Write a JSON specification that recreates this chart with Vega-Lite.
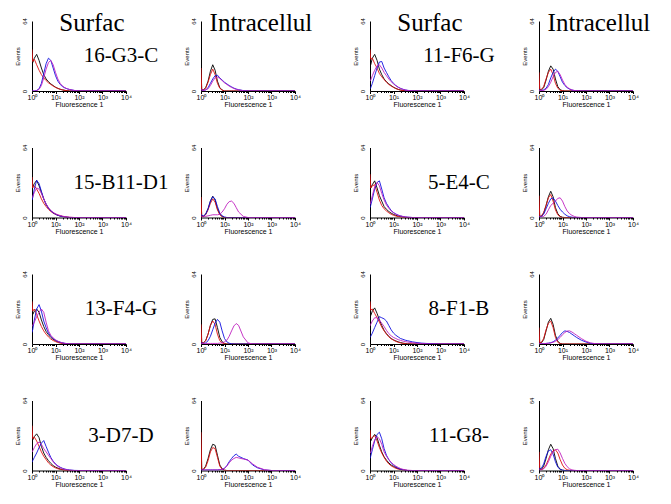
{
"$schema": "https://vega.github.io/schema/vega-lite/v6.json",
"background": "white",
"padding": {"left": 14, "top": 10, "right": 0, "bottom": 0},
"datasets": {
"d": [
{"row":1,"col":1,"x":1,"black":46,"red":38,"blue":0,"magenta":0},
{"row":1,"col":1,"x":1.07,"black":26,"red":27,"blue":0,"magenta":0},
{"row":1,"col":1,"x":1.26,"black":30,"red":29,"blue":0,"magenta":0},
{"row":1,"col":1,"x":1.58,"black":33.5,"red":24,"blue":0.5,"magenta":0.3},
{"row":1,"col":1,"x":2,"black":28,"red":19,"blue":2,"magenta":1.5},
{"row":1,"col":1,"x":2.51,"black":21,"red":15,"blue":7,"magenta":5},
{"row":1,"col":1,"x":3.16,"black":15,"red":12,"blue":16,"magenta":12},
{"row":1,"col":1,"x":3.98,"black":11,"red":9.5,"blue":25,"magenta":20},
{"row":1,"col":1,"x":5.01,"black":8.5,"red":7.5,"blue":30,"magenta":26},
{"row":1,"col":1,"x":6.31,"black":6.5,"red":6,"blue":28,"magenta":28},
{"row":1,"col":1,"x":7.94,"black":5,"red":4.5,"blue":21,"magenta":24},
{"row":1,"col":1,"x":10,"black":3.5,"red":3.3,"blue":14,"magenta":17},
{"row":1,"col":1,"x":12.6,"black":2.4,"red":2.4,"blue":9,"magenta":11},
{"row":1,"col":1,"x":15.8,"black":1.6,"red":1.6,"blue":6,"magenta":7},
{"row":1,"col":1,"x":20,"black":1,"red":1,"blue":4,"magenta":4.5},
{"row":1,"col":1,"x":25.1,"black":0.6,"red":0.5,"blue":2.8,"magenta":3},
{"row":1,"col":1,"x":31.6,"black":0.3,"red":0.2,"blue":2,"magenta":2},
{"row":1,"col":1,"x":39.8,"black":0,"red":0,"blue":1.4,"magenta":1.3},
{"row":1,"col":1,"x":63.1,"black":0,"red":0,"blue":0.5,"magenta":0.5},
{"row":1,"col":1,"x":100,"black":0,"red":0,"blue":0,"magenta":0},
{"row":1,"col":1,"x":10000,"black":0,"red":0,"blue":0,"magenta":0},

{"row":1,"col":2,"x":1,"black":26,"red":21,"blue":1,"magenta":1},
{"row":1,"col":2,"x":1.07,"black":1,"red":1,"blue":1,"magenta":1},
{"row":1,"col":2,"x":1.26,"black":1,"red":1,"blue":0.5,"magenta":0.5},
{"row":1,"col":2,"x":1.58,"black":3,"red":2.5,"blue":1,"magenta":1},
{"row":1,"col":2,"x":2,"black":9,"red":8,"blue":3,"magenta":2},
{"row":1,"col":2,"x":2.51,"black":18,"red":15,"blue":7,"magenta":5},
{"row":1,"col":2,"x":3.16,"black":24,"red":20,"blue":11,"magenta":9},
{"row":1,"col":2,"x":3.98,"black":19,"red":15,"blue":14,"magenta":12},
{"row":1,"col":2,"x":5.01,"black":9,"red":7,"blue":14.5,"magenta":12.8},
{"row":1,"col":2,"x":6.31,"black":3,"red":2.5,"blue":12,"magenta":11.5},
{"row":1,"col":2,"x":7.94,"black":1,"red":0.8,"blue":10,"magenta":9.5},
{"row":1,"col":2,"x":10,"black":0,"red":0,"blue":8,"magenta":7.5},
{"row":1,"col":2,"x":12.6,"black":0,"red":0,"blue":6.5,"magenta":6},
{"row":1,"col":2,"x":15.8,"black":0,"red":0,"blue":5,"magenta":4.5},
{"row":1,"col":2,"x":20,"black":0,"red":0,"blue":3.8,"magenta":3.3},
{"row":1,"col":2,"x":25.1,"black":0,"red":0,"blue":2.6,"magenta":2.3},
{"row":1,"col":2,"x":31.6,"black":0,"red":0,"blue":1.8,"magenta":1.5},
{"row":1,"col":2,"x":39.8,"black":0,"red":0,"blue":1.2,"magenta":1},
{"row":1,"col":2,"x":63.1,"black":0,"red":0,"blue":0.4,"magenta":0.3},
{"row":1,"col":2,"x":100,"black":0,"red":0,"blue":0,"magenta":0},
{"row":1,"col":2,"x":10000,"black":0,"red":0,"blue":0,"magenta":0},

{"row":1,"col":3,"x":1,"black":44,"red":38,"blue":2,"magenta":9},
{"row":1,"col":3,"x":1.07,"black":24,"red":29,"blue":3,"magenta":10},
{"row":1,"col":3,"x":1.26,"black":30,"red":30,"blue":7,"magenta":14},
{"row":1,"col":3,"x":1.58,"black":33.5,"red":25,"blue":14,"magenta":19},
{"row":1,"col":3,"x":2,"black":28,"red":21,"blue":21,"magenta":23},
{"row":1,"col":3,"x":2.51,"black":20,"red":16,"blue":26.5,"magenta":24},
{"row":1,"col":3,"x":3.16,"black":15,"red":13,"blue":27,"magenta":21},
{"row":1,"col":3,"x":3.98,"black":11,"red":10.5,"blue":21,"magenta":17},
{"row":1,"col":3,"x":5.01,"black":8.5,"red":8,"blue":17,"magenta":14},
{"row":1,"col":3,"x":6.31,"black":6.5,"red":6,"blue":13,"magenta":11},
{"row":1,"col":3,"x":7.94,"black":5,"red":4.5,"blue":9.5,"magenta":8.5},
{"row":1,"col":3,"x":10,"black":3.5,"red":3.3,"blue":7,"magenta":6.5},
{"row":1,"col":3,"x":12.6,"black":2.4,"red":2.2,"blue":5,"magenta":4.8},
{"row":1,"col":3,"x":15.8,"black":1.5,"red":1.4,"blue":3.5,"magenta":3.4},
{"row":1,"col":3,"x":20,"black":0.9,"red":0.8,"blue":2.4,"magenta":2.3},
{"row":1,"col":3,"x":25.1,"black":0.5,"red":0.4,"blue":1.6,"magenta":1.5},
{"row":1,"col":3,"x":31.6,"black":0.2,"red":0.1,"blue":1,"magenta":0.9},
{"row":1,"col":3,"x":39.8,"black":0,"red":0,"blue":0.6,"magenta":0.5},
{"row":1,"col":3,"x":63.1,"black":0,"red":0,"blue":0.1,"magenta":0.1},
{"row":1,"col":3,"x":100,"black":0,"red":0,"blue":0,"magenta":0},
{"row":1,"col":3,"x":10000,"black":0,"red":0,"blue":0,"magenta":0},

{"row":1,"col":4,"x":1,"black":24,"red":17,"blue":1,"magenta":0.5},
{"row":1,"col":4,"x":1.07,"black":1,"red":1,"blue":1,"magenta":0.5},
{"row":1,"col":4,"x":1.26,"black":1,"red":1.5,"blue":0.5,"magenta":0.3},
{"row":1,"col":4,"x":1.58,"black":3,"red":4,"blue":1,"magenta":0.5},
{"row":1,"col":4,"x":2,"black":10,"red":11,"blue":2.5,"magenta":1.5},
{"row":1,"col":4,"x":2.51,"black":18,"red":17,"blue":6,"magenta":4},
{"row":1,"col":4,"x":3.16,"black":23,"red":20,"blue":12,"magenta":8},
{"row":1,"col":4,"x":3.98,"black":20,"red":15,"blue":17,"magenta":13},
{"row":1,"col":4,"x":5.01,"black":11,"red":7,"blue":20,"magenta":17},
{"row":1,"col":4,"x":6.31,"black":4,"red":2.5,"blue":18,"magenta":18},
{"row":1,"col":4,"x":7.94,"black":1.2,"red":0.7,"blue":13,"magenta":15},
{"row":1,"col":4,"x":10,"black":0.3,"red":0.2,"blue":8,"magenta":10},
{"row":1,"col":4,"x":12.6,"black":0,"red":0,"blue":5,"magenta":6},
{"row":1,"col":4,"x":15.8,"black":0,"red":0,"blue":3,"magenta":3.5},
{"row":1,"col":4,"x":20,"black":0,"red":0,"blue":1.7,"magenta":2},
{"row":1,"col":4,"x":25.1,"black":0,"red":0,"blue":0.9,"magenta":1},
{"row":1,"col":4,"x":31.6,"black":0,"red":0,"blue":0.4,"magenta":0.5},
{"row":1,"col":4,"x":39.8,"black":0,"red":0,"blue":0.1,"magenta":0.2},
{"row":1,"col":4,"x":63.1,"black":0,"red":0,"blue":0,"magenta":0},
{"row":1,"col":4,"x":10000,"black":0,"red":0,"blue":0,"magenta":0},

{"row":2,"col":1,"x":1,"black":43,"red":37,"blue":16,"magenta":18},
{"row":2,"col":1,"x":1.07,"black":28,"red":27,"blue":18,"magenta":19},
{"row":2,"col":1,"x":1.26,"black":31,"red":29,"blue":26,"magenta":23},
{"row":2,"col":1,"x":1.58,"black":34,"red":26,"blue":34,"magenta":27},
{"row":2,"col":1,"x":2,"black":29,"red":22,"blue":31,"magenta":26},
{"row":2,"col":1,"x":2.51,"black":23,"red":17,"blue":24,"magenta":22},
{"row":2,"col":1,"x":3.16,"black":17,"red":13,"blue":17,"magenta":17},
{"row":2,"col":1,"x":3.98,"black":12,"red":10,"blue":12,"magenta":12.5},
{"row":2,"col":1,"x":5.01,"black":8.5,"red":7.5,"blue":8.5,"magenta":9},
{"row":2,"col":1,"x":6.31,"black":6,"red":5.5,"blue":6,"magenta":6.5},
{"row":2,"col":1,"x":7.94,"black":4.3,"red":4,"blue":4.3,"magenta":4.7},
{"row":2,"col":1,"x":10,"black":3,"red":3,"blue":3,"magenta":3.4},
{"row":2,"col":1,"x":12.6,"black":2,"red":2.2,"blue":2,"magenta":2.5},
{"row":2,"col":1,"x":15.8,"black":1.4,"red":1.5,"blue":1.3,"magenta":1.8},
{"row":2,"col":1,"x":20,"black":0.9,"red":1,"blue":0.8,"magenta":1.2},
{"row":2,"col":1,"x":25.1,"black":0.5,"red":0.6,"blue":0.5,"magenta":0.8},
{"row":2,"col":1,"x":31.6,"black":0.2,"red":0.3,"blue":0.2,"magenta":0.5},
{"row":2,"col":1,"x":39.8,"black":0,"red":0.1,"blue":0,"magenta":0.3},
{"row":2,"col":1,"x":63.1,"black":0,"red":0,"blue":0,"magenta":0},
{"row":2,"col":1,"x":10000,"black":0,"red":0,"blue":0,"magenta":0},

{"row":2,"col":2,"x":1,"black":23,"red":18.7,"blue":3,"magenta":0.5},
{"row":2,"col":2,"x":1.07,"black":1,"red":1,"blue":2,"magenta":0.5},
{"row":2,"col":2,"x":1.26,"black":1,"red":1,"blue":1.5,"magenta":0.5},
{"row":2,"col":2,"x":1.58,"black":3,"red":2.5,"blue":3,"magenta":1},
{"row":2,"col":2,"x":2,"black":8,"red":7,"blue":8,"magenta":1.5},
{"row":2,"col":2,"x":2.51,"black":15,"red":13,"blue":15,"magenta":2},
{"row":2,"col":2,"x":3.16,"black":19.5,"red":17,"blue":19,"magenta":2.5},
{"row":2,"col":2,"x":3.98,"black":16,"red":14,"blue":17,"magenta":2.5},
{"row":2,"col":2,"x":5.01,"black":8,"red":7,"blue":10,"magenta":2.5},
{"row":2,"col":2,"x":6.31,"black":3,"red":2.5,"blue":4,"magenta":3},
{"row":2,"col":2,"x":7.94,"black":1,"red":0.8,"blue":1.5,"magenta":5},
{"row":2,"col":2,"x":10,"black":0,"red":0,"blue":0.5,"magenta":8},
{"row":2,"col":2,"x":12.6,"black":0,"red":0,"blue":0,"magenta":12},
{"row":2,"col":2,"x":15.8,"black":0,"red":0,"blue":0,"magenta":14.5},
{"row":2,"col":2,"x":20,"black":0,"red":0,"blue":0,"magenta":15},
{"row":2,"col":2,"x":25.1,"black":0,"red":0,"blue":0,"magenta":13},
{"row":2,"col":2,"x":31.6,"black":0,"red":0,"blue":0,"magenta":9},
{"row":2,"col":2,"x":39.8,"black":0,"red":0,"blue":0,"magenta":5},
{"row":2,"col":2,"x":63.1,"black":0,"red":0,"blue":0,"magenta":1},
{"row":2,"col":2,"x":100,"black":0,"red":0,"blue":0,"magenta":0},
{"row":2,"col":2,"x":10000,"black":0,"red":0,"blue":0,"magenta":0},

{"row":2,"col":3,"x":1,"black":45.7,"red":39.6,"blue":9,"magenta":12},
{"row":2,"col":3,"x":1.07,"black":27,"red":27,"blue":11,"magenta":14},
{"row":2,"col":3,"x":1.26,"black":30,"red":29,"blue":17,"magenta":20},
{"row":2,"col":3,"x":1.58,"black":33.5,"red":30,"blue":26,"magenta":28},
{"row":2,"col":3,"x":2,"black":27,"red":23,"blue":32,"magenta":32},
{"row":2,"col":3,"x":2.51,"black":20,"red":16,"blue":33.5,"magenta":29},
{"row":2,"col":3,"x":3.16,"black":15,"red":11,"blue":26,"magenta":22},
{"row":2,"col":3,"x":3.98,"black":10,"red":8,"blue":18,"magenta":16},
{"row":2,"col":3,"x":5.01,"black":7.5,"red":6,"blue":13,"magenta":11.5},
{"row":2,"col":3,"x":6.31,"black":5.5,"red":4.3,"blue":9.5,"magenta":8.5},
{"row":2,"col":3,"x":7.94,"black":4,"red":3,"blue":6.5,"magenta":6},
{"row":2,"col":3,"x":10,"black":2.8,"red":2,"blue":4.5,"magenta":4.3},
{"row":2,"col":3,"x":12.6,"black":2,"red":1.3,"blue":3.2,"magenta":3},
{"row":2,"col":3,"x":15.8,"black":1.3,"red":0.8,"blue":2.2,"magenta":2},
{"row":2,"col":3,"x":20,"black":0.8,"red":0.4,"blue":1.5,"magenta":1.4},
{"row":2,"col":3,"x":25.1,"black":0.4,"red":0.2,"blue":0.9,"magenta":0.9},
{"row":2,"col":3,"x":31.6,"black":0.1,"red":0,"blue":0.5,"magenta":0.5},
{"row":2,"col":3,"x":39.8,"black":0,"red":0,"blue":0.3,"magenta":0.3},
{"row":2,"col":3,"x":63.1,"black":0,"red":0,"blue":0,"magenta":0},
{"row":2,"col":3,"x":10000,"black":0,"red":0,"blue":0,"magenta":0},

{"row":2,"col":4,"x":1,"black":24,"red":20,"blue":1,"magenta":0.5},
{"row":2,"col":4,"x":1.07,"black":1,"red":1,"blue":1,"magenta":0.5},
{"row":2,"col":4,"x":1.26,"black":1,"red":1.5,"blue":1,"magenta":0.5},
{"row":2,"col":4,"x":1.58,"black":4,"red":4.5,"blue":3,"magenta":1},
{"row":2,"col":4,"x":2,"black":11,"red":11,"blue":8,"magenta":3},
{"row":2,"col":4,"x":2.51,"black":19,"red":18,"blue":13,"magenta":7},
{"row":2,"col":4,"x":3.16,"black":24,"red":21,"blue":17,"magenta":11},
{"row":2,"col":4,"x":3.98,"black":19,"red":15,"blue":18,"magenta":13},
{"row":2,"col":4,"x":5.01,"black":9,"red":7,"blue":15,"magenta":15},
{"row":2,"col":4,"x":6.31,"black":3.5,"red":2.5,"blue":11,"magenta":17.5},
{"row":2,"col":4,"x":7.94,"black":1,"red":0.7,"blue":7.5,"magenta":18},
{"row":2,"col":4,"x":10,"black":0.2,"red":0,"blue":5,"magenta":15},
{"row":2,"col":4,"x":12.6,"black":0,"red":0,"blue":3,"magenta":10},
{"row":2,"col":4,"x":15.8,"black":0,"red":0,"blue":1.5,"magenta":6},
{"row":2,"col":4,"x":20,"black":0,"red":0,"blue":0.7,"magenta":3.5},
{"row":2,"col":4,"x":25.1,"black":0,"red":0,"blue":0.3,"magenta":2},
{"row":2,"col":4,"x":31.6,"black":0,"red":0,"blue":0,"magenta":1},
{"row":2,"col":4,"x":39.8,"black":0,"red":0,"blue":0,"magenta":0.4},
{"row":2,"col":4,"x":63.1,"black":0,"red":0,"blue":0,"magenta":0},
{"row":2,"col":4,"x":10000,"black":0,"red":0,"blue":0,"magenta":0},

{"row":3,"col":1,"x":1,"black":45,"red":39,"blue":10.5,"magenta":16},
{"row":3,"col":1,"x":1.07,"black":27,"red":30,"blue":13,"magenta":17},
{"row":3,"col":1,"x":1.26,"black":30,"red":32,"blue":22,"magenta":20},
{"row":3,"col":1,"x":1.58,"black":32,"red":27,"blue":32,"magenta":25},
{"row":3,"col":1,"x":2,"black":29,"red":21,"blue":36,"magenta":29},
{"row":3,"col":1,"x":2.51,"black":22,"red":16,"blue":30,"magenta":32},
{"row":3,"col":1,"x":3.16,"black":16,"red":12,"blue":21,"magenta":29},
{"row":3,"col":1,"x":3.98,"black":11.5,"red":9,"blue":15,"magenta":20},
{"row":3,"col":1,"x":5.01,"black":8.5,"red":6.5,"blue":10,"magenta":12},
{"row":3,"col":1,"x":6.31,"black":6,"red":4.5,"blue":7,"magenta":8},
{"row":3,"col":1,"x":7.94,"black":4.3,"red":3.2,"blue":5,"magenta":5.5},
{"row":3,"col":1,"x":10,"black":3,"red":2.2,"blue":3.5,"magenta":3.8},
{"row":3,"col":1,"x":12.6,"black":2,"red":1.4,"blue":2.4,"magenta":2.6},
{"row":3,"col":1,"x":15.8,"black":1.3,"red":0.8,"blue":1.6,"magenta":1.7},
{"row":3,"col":1,"x":20,"black":0.8,"red":0.4,"blue":1,"magenta":1},
{"row":3,"col":1,"x":25.1,"black":0.4,"red":0.1,"blue":0.6,"magenta":0.6},
{"row":3,"col":1,"x":31.6,"black":0.1,"red":0,"blue":0.3,"magenta":0.3},
{"row":3,"col":1,"x":39.8,"black":0,"red":0,"blue":0,"magenta":0},
{"row":3,"col":1,"x":10000,"black":0,"red":0,"blue":0,"magenta":0},

{"row":3,"col":2,"x":1,"black":32,"red":18,"blue":1,"magenta":0.5},
{"row":3,"col":2,"x":1.07,"black":1,"red":1,"blue":1,"magenta":0.5},
{"row":3,"col":2,"x":1.26,"black":1,"red":1,"blue":0.5,"magenta":0.5},
{"row":3,"col":2,"x":1.58,"black":3,"red":3,"blue":1,"magenta":0.5},
{"row":3,"col":2,"x":2,"black":9,"red":9,"blue":3,"magenta":0.5},
{"row":3,"col":2,"x":2.51,"black":17,"red":17,"blue":7,"magenta":0.5},
{"row":3,"col":2,"x":3.16,"black":22.5,"red":21,"blue":13,"magenta":0.5},
{"row":3,"col":2,"x":3.98,"black":23,"red":18,"blue":19,"magenta":0.5},
{"row":3,"col":2,"x":5.01,"black":15,"red":9,"blue":22.5,"magenta":0.5},
{"row":3,"col":2,"x":6.31,"black":6,"red":3,"blue":20,"magenta":0.8},
{"row":3,"col":2,"x":7.94,"black":2,"red":1,"blue":12,"magenta":1},
{"row":3,"col":2,"x":10,"black":0.5,"red":0.2,"blue":5,"magenta":2},
{"row":3,"col":2,"x":12.6,"black":0,"red":0,"blue":2,"magenta":3.5},
{"row":3,"col":2,"x":15.8,"black":0,"red":0,"blue":0.7,"magenta":7},
{"row":3,"col":2,"x":20,"black":0,"red":0,"blue":0.2,"magenta":12},
{"row":3,"col":2,"x":25.1,"black":0,"red":0,"blue":0,"magenta":16.5},
{"row":3,"col":2,"x":31.6,"black":0,"red":0,"blue":0,"magenta":18.7},
{"row":3,"col":2,"x":39.8,"black":0,"red":0,"blue":0,"magenta":17},
{"row":3,"col":2,"x":63.1,"black":0,"red":0,"blue":0,"magenta":6.5},
{"row":3,"col":2,"x":100,"black":0,"red":0,"blue":0,"magenta":1},
{"row":3,"col":2,"x":158,"black":0,"red":0,"blue":0,"magenta":0},
{"row":3,"col":2,"x":10000,"black":0,"red":0,"blue":0,"magenta":0},

{"row":3,"col":3,"x":1,"black":45,"red":39,"blue":6,"magenta":16.6},
{"row":3,"col":3,"x":1.07,"black":26,"red":31,"blue":7,"magenta":18},
{"row":3,"col":3,"x":1.26,"black":30,"red":32,"blue":10,"magenta":21},
{"row":3,"col":3,"x":1.58,"black":33,"red":28,"blue":15,"magenta":24},
{"row":3,"col":3,"x":2,"black":28,"red":24,"blue":20,"magenta":24},
{"row":3,"col":3,"x":2.51,"black":22,"red":20,"blue":25,"magenta":22},
{"row":3,"col":3,"x":3.16,"black":17,"red":15.5,"blue":24,"magenta":19},
{"row":3,"col":3,"x":3.98,"black":12.5,"red":12,"blue":23,"magenta":16},
{"row":3,"col":3,"x":5.01,"black":9.5,"red":9,"blue":21,"magenta":12.5},
{"row":3,"col":3,"x":6.31,"black":7,"red":6.5,"blue":17,"magenta":9.5},
{"row":3,"col":3,"x":7.94,"black":5,"red":4.8,"blue":13,"magenta":7.5},
{"row":3,"col":3,"x":10,"black":3.8,"red":3.5,"blue":10,"magenta":6},
{"row":3,"col":3,"x":12.6,"black":2.8,"red":2.4,"blue":8,"magenta":5},
{"row":3,"col":3,"x":15.8,"black":2,"red":1.6,"blue":6.5,"magenta":4},
{"row":3,"col":3,"x":20,"black":1.3,"red":1,"blue":5,"magenta":3.3},
{"row":3,"col":3,"x":25.1,"black":0.8,"red":0.6,"blue":4.3,"magenta":2.7},
{"row":3,"col":3,"x":31.6,"black":0.5,"red":0.3,"blue":3.5,"magenta":2.2},
{"row":3,"col":3,"x":39.8,"black":0.2,"red":0.1,"blue":3,"magenta":1.8},
{"row":3,"col":3,"x":63.1,"black":0,"red":0,"blue":2,"magenta":1.2},
{"row":3,"col":3,"x":100,"black":0,"red":0,"blue":1.3,"magenta":0.7},
{"row":3,"col":3,"x":158,"black":0,"red":0,"blue":0.8,"magenta":0.4},
{"row":3,"col":3,"x":251,"black":0,"red":0,"blue":0.5,"magenta":0.2},
{"row":3,"col":3,"x":501,"black":0,"red":0,"blue":0.2,"magenta":0},
{"row":3,"col":3,"x":1000,"black":0,"red":0,"blue":0,"magenta":0},
{"row":3,"col":3,"x":10000,"black":0,"red":0,"blue":0,"magenta":0},

{"row":3,"col":4,"x":1,"black":30,"red":15,"blue":0.5,"magenta":0.5},
{"row":3,"col":4,"x":1.07,"black":1,"red":1,"blue":0.5,"magenta":0.5},
{"row":3,"col":4,"x":1.26,"black":1,"red":1.5,"blue":0.3,"magenta":0.3},
{"row":3,"col":4,"x":1.58,"black":4,"red":5,"blue":0.3,"magenta":0.3},
{"row":3,"col":4,"x":2,"black":12,"red":13,"blue":0.5,"magenta":0.5},
{"row":3,"col":4,"x":2.51,"black":20,"red":19,"blue":0.8,"magenta":0.6},
{"row":3,"col":4,"x":3.16,"black":23.5,"red":21,"blue":1.2,"magenta":1},
{"row":3,"col":4,"x":3.98,"black":18,"red":15,"blue":2,"magenta":1.5},
{"row":3,"col":4,"x":5.01,"black":8,"red":6,"blue":3.5,"magenta":2.5},
{"row":3,"col":4,"x":6.31,"black":2.5,"red":1.5,"blue":5.5,"magenta":4},
{"row":3,"col":4,"x":7.94,"black":0.5,"red":0.3,"blue":8,"magenta":6},
{"row":3,"col":4,"x":10,"black":0,"red":0,"blue":10.5,"magenta":8.5},
{"row":3,"col":4,"x":12.6,"black":0,"red":0,"blue":12,"magenta":10.5},
{"row":3,"col":4,"x":15.8,"black":0,"red":0,"blue":11.5,"magenta":11.8},
{"row":3,"col":4,"x":20,"black":0,"red":0,"blue":10.5,"magenta":12},
{"row":3,"col":4,"x":25.1,"black":0,"red":0,"blue":9,"magenta":11},
{"row":3,"col":4,"x":31.6,"black":0,"red":0,"blue":7.5,"magenta":9.5},
{"row":3,"col":4,"x":39.8,"black":0,"red":0,"blue":6,"magenta":8},
{"row":3,"col":4,"x":63.1,"black":0,"red":0,"blue":3.5,"magenta":5},
{"row":3,"col":4,"x":100,"black":0,"red":0,"blue":1.8,"magenta":2.5},
{"row":3,"col":4,"x":158,"black":0,"red":0,"blue":0.6,"magenta":1},
{"row":3,"col":4,"x":251,"black":0,"red":0,"blue":0.1,"magenta":0.3},
{"row":3,"col":4,"x":501,"black":0,"red":0,"blue":0,"magenta":0},
{"row":3,"col":4,"x":10000,"black":0,"red":0,"blue":0,"magenta":0},

{"row":4,"col":1,"x":1,"black":45.7,"red":41,"blue":7.6,"magenta":16.8},
{"row":4,"col":1,"x":1.07,"black":28,"red":29,"blue":9,"magenta":18},
{"row":4,"col":1,"x":1.26,"black":31,"red":30.5,"blue":12,"magenta":21},
{"row":4,"col":1,"x":1.58,"black":33.5,"red":27,"blue":16,"magenta":24.5},
{"row":4,"col":1,"x":2,"black":30,"red":22,"blue":21,"magenta":26},
{"row":4,"col":1,"x":2.51,"black":22,"red":17,"blue":25,"magenta":24},
{"row":4,"col":1,"x":3.16,"black":16,"red":13,"blue":27.4,"magenta":20},
{"row":4,"col":1,"x":3.98,"black":12,"red":10,"blue":22,"magenta":17},
{"row":4,"col":1,"x":5.01,"black":9,"red":7,"blue":16.8,"magenta":14},
{"row":4,"col":1,"x":6.31,"black":6.5,"red":5,"blue":12,"magenta":11},
{"row":4,"col":1,"x":7.94,"black":4.5,"red":3.5,"blue":8.5,"magenta":8},
{"row":4,"col":1,"x":10,"black":3.2,"red":2.4,"blue":6,"magenta":5.5},
{"row":4,"col":1,"x":12.6,"black":2.2,"red":1.6,"blue":4.2,"magenta":3.8},
{"row":4,"col":1,"x":15.8,"black":1.4,"red":1,"blue":3,"magenta":2.6},
{"row":4,"col":1,"x":20,"black":0.8,"red":0.5,"blue":2,"magenta":1.7},
{"row":4,"col":1,"x":25.1,"black":0.4,"red":0.2,"blue":1.3,"magenta":1},
{"row":4,"col":1,"x":31.6,"black":0.1,"red":0,"blue":0.8,"magenta":0.6},
{"row":4,"col":1,"x":39.8,"black":0,"red":0,"blue":0.5,"magenta":0.3},
{"row":4,"col":1,"x":63.1,"black":0,"red":0,"blue":0.1,"magenta":0},
{"row":4,"col":1,"x":100,"black":0,"red":0,"blue":0,"magenta":0},
{"row":4,"col":1,"x":10000,"black":0,"red":0,"blue":0,"magenta":0},

{"row":4,"col":2,"x":1,"black":44,"red":35,"blue":0.5,"magenta":0.5},
{"row":4,"col":2,"x":1.07,"black":1,"red":1,"blue":0.5,"magenta":0.5},
{"row":4,"col":2,"x":1.26,"black":1,"red":1,"blue":0.5,"magenta":0.5},
{"row":4,"col":2,"x":1.58,"black":4,"red":3,"blue":0.5,"magenta":0.5},
{"row":4,"col":2,"x":2,"black":11,"red":9,"blue":0.5,"magenta":0.5},
{"row":4,"col":2,"x":2.51,"black":19,"red":17,"blue":0.5,"magenta":0.5},
{"row":4,"col":2,"x":3.16,"black":24,"red":21,"blue":0.5,"magenta":0.5},
{"row":4,"col":2,"x":3.98,"black":23,"red":20,"blue":0.5,"magenta":0.5},
{"row":4,"col":2,"x":5.01,"black":14,"red":12,"blue":0.5,"magenta":0.5},
{"row":4,"col":2,"x":6.31,"black":5,"red":4,"blue":0.8,"magenta":0.8},
{"row":4,"col":2,"x":7.94,"black":1.5,"red":1,"blue":1,"magenta":1},
{"row":4,"col":2,"x":10,"black":0.3,"red":0.2,"blue":2,"magenta":2},
{"row":4,"col":2,"x":12.6,"black":0,"red":0,"blue":4.5,"magenta":4},
{"row":4,"col":2,"x":15.8,"black":0,"red":0,"blue":8,"magenta":7},
{"row":4,"col":2,"x":20,"black":0,"red":0,"blue":11,"magenta":9.5},
{"row":4,"col":2,"x":25.1,"black":0,"red":0,"blue":13.5,"magenta":11},
{"row":4,"col":2,"x":31.6,"black":0,"red":0,"blue":15,"magenta":12},
{"row":4,"col":2,"x":39.8,"black":0,"red":0,"blue":13,"magenta":11.5},
{"row":4,"col":2,"x":63.1,"black":0,"red":0,"blue":11,"magenta":10.5},
{"row":4,"col":2,"x":100,"black":0,"red":0,"blue":9.5,"magenta":9.5},
{"row":4,"col":2,"x":158,"black":0,"red":0,"blue":5,"magenta":6},
{"row":4,"col":2,"x":251,"black":0,"red":0,"blue":2.5,"magenta":3},
{"row":4,"col":2,"x":501,"black":0,"red":0,"blue":0.5,"magenta":0.7},
{"row":4,"col":2,"x":1000,"black":0,"red":0,"blue":0,"magenta":0},
{"row":4,"col":2,"x":10000,"black":0,"red":0,"blue":0,"magenta":0},

{"row":4,"col":3,"x":1,"black":46,"red":37,"blue":11,"magenta":15.7},
{"row":4,"col":3,"x":1.07,"black":27,"red":29,"blue":13,"magenta":17},
{"row":4,"col":3,"x":1.26,"black":30,"red":30,"blue":19,"magenta":22},
{"row":4,"col":3,"x":1.58,"black":33,"red":32,"blue":27,"magenta":28},
{"row":4,"col":3,"x":2,"black":30,"red":27,"blue":33,"magenta":31},
{"row":4,"col":3,"x":2.51,"black":23,"red":21,"blue":35,"magenta":29},
{"row":4,"col":3,"x":3.16,"black":17,"red":16,"blue":29,"magenta":24},
{"row":4,"col":3,"x":3.98,"black":12.5,"red":12,"blue":20,"magenta":17},
{"row":4,"col":3,"x":5.01,"black":9.5,"red":8.5,"blue":14,"magenta":13},
{"row":4,"col":3,"x":6.31,"black":7,"red":6,"blue":10,"magenta":10},
{"row":4,"col":3,"x":7.94,"black":5,"red":4.3,"blue":7,"magenta":7.5},
{"row":4,"col":3,"x":10,"black":3.8,"red":3,"blue":5,"magenta":5.5},
{"row":4,"col":3,"x":12.6,"black":2.7,"red":2,"blue":3.3,"magenta":4},
{"row":4,"col":3,"x":15.8,"black":1.8,"red":1.3,"blue":2,"magenta":2.8},
{"row":4,"col":3,"x":20,"black":1.1,"red":0.8,"blue":1.2,"magenta":1.8},
{"row":4,"col":3,"x":25.1,"black":0.6,"red":0.4,"blue":0.6,"magenta":1.1},
{"row":4,"col":3,"x":31.6,"black":0.3,"red":0.1,"blue":0.2,"magenta":0.6},
{"row":4,"col":3,"x":39.8,"black":0,"red":0,"blue":0,"magenta":0.3},
{"row":4,"col":3,"x":63.1,"black":0,"red":0,"blue":0,"magenta":0},
{"row":4,"col":3,"x":10000,"black":0,"red":0,"blue":0,"magenta":0},

{"row":4,"col":4,"x":1,"black":32,"red":17,"blue":2,"magenta":0.5},
{"row":4,"col":4,"x":1.07,"black":1,"red":1,"blue":1.5,"magenta":0.5},
{"row":4,"col":4,"x":1.26,"black":1,"red":1,"blue":2,"magenta":0.5},
{"row":4,"col":4,"x":1.58,"black":4,"red":2,"blue":6,"magenta":1.5},
{"row":4,"col":4,"x":2,"black":11,"red":5,"blue":13,"magenta":4},
{"row":4,"col":4,"x":2.51,"black":19,"red":10,"blue":18,"magenta":8},
{"row":4,"col":4,"x":3.16,"black":24,"red":15,"blue":19,"magenta":13},
{"row":4,"col":4,"x":3.98,"black":20,"red":18,"blue":15,"magenta":17},
{"row":4,"col":4,"x":5.01,"black":11,"red":19,"blue":8,"magenta":19},
{"row":4,"col":4,"x":6.31,"black":4,"red":16,"blue":3,"magenta":19.5},
{"row":4,"col":4,"x":7.94,"black":1.2,"red":10,"blue":1,"magenta":16},
{"row":4,"col":4,"x":10,"black":0.3,"red":5,"blue":0.3,"magenta":11},
{"row":4,"col":4,"x":12.6,"black":0,"red":2,"blue":0,"magenta":6.5},
{"row":4,"col":4,"x":15.8,"black":0,"red":0.7,"blue":0,"magenta":3.5},
{"row":4,"col":4,"x":20,"black":0,"red":0.2,"blue":0,"magenta":1.5},
{"row":4,"col":4,"x":25.1,"black":0,"red":0,"blue":0,"magenta":0.6},
{"row":4,"col":4,"x":31.6,"black":0,"red":0,"blue":0,"magenta":0.2},
{"row":4,"col":4,"x":39.8,"black":0,"red":0,"blue":0,"magenta":0},
{"row":4,"col":4,"x":10000,"black":0,"red":0,"blue":0,"magenta":0},

{"row":1,"col":1,"label":"16-G3-C"},
{"row":1,"col":3,"label":"11-F6-G"},
{"row":2,"col":1,"label":"15-B11-D1"},
{"row":2,"col":3,"label":"5-E4-C"},
{"row":3,"col":1,"label":"13-F4-G"},
{"row":3,"col":3,"label":"8-F1-B"},
{"row":4,"col":1,"label":"3-D7-D"},
{"row":4,"col":3,"label":"11-G8-"},
{"row":1,"col":1,"header":"Surfac"},
{"row":1,"col":2,"header":"Intracellul"},
{"row":1,"col":3,"header":"Surfac"},
{"row":1,"col":4,"header":"Intracellul"}
]
},
"data": {"name": "d"},
"facet": {
  "row": {"field": "row", "type": "ordinal", "header": {"labels": false, "title": null}},
  "column": {"field": "col", "type": "ordinal", "header": {"labels": false, "title": null}}
},
"spacing": {"row": 56.5, "column": 75},
"bounds": "flush",
"resolve": {"axis": {"x": "independent", "y": "independent"}},
"spec": {
  "width": 94,
  "height": 70,
  "layer": [
    {
      "transform": [
        {"filter": "isValid(datum.x)"},
        {"fold": ["black", "red", "blue", "magenta"], "as": ["series", "events"]}
      ],
      "mark": {"type": "line", "strokeWidth": 0.9, "clip": true},
      "encoding": {
        "x": {
          "field": "x", "type": "quantitative",
          "scale": {"type": "log", "domain": [1, 10000], "nice": false},
          "axis": {
            "title": "Fluorescence 1",
            "titleFont": "Liberation Sans", "titleFontSize": 7, "titleFontWeight": "normal", "titleColor": "black", "titlePadding": 0,
            "values": [1,2,3,4,5,6,7,8,9,10,20,30,40,50,60,70,80,90,100,200,300,400,500,600,700,800,900,1000,2000,3000,4000,5000,6000,7000,8000,9000,10000],
            "labelExpr": "datum.value == 1 ? '10⁰' : datum.value == 10 ? '10¹' : datum.value == 100 ? '10²' : datum.value == 1000 ? '10³' : datum.value == 10000 ? '10⁴' : ''",
            "labelFont": "Liberation Sans", "labelFontSize": 7, "labelColor": "black", "labelPadding": 0,
            "labelFlush": false, "labelOverlap": false, "labelBound": false,
            "tickSize": {"condition": {"test": "indexof([1,10,100,1000,10000], datum.value) >= 0", "value": 2.5}, "value": 1.5},
            "tickColor": "black", "domainColor": "black", "grid": false
          }
        },
        "y": {
          "field": "events", "type": "quantitative",
          "scale": {"domain": [0, 64], "nice": false, "zero": true},
          "axis": {
            "title": "Events",
            "titleFont": "Liberation Sans", "titleFontSize": 6, "titleFontWeight": "normal", "titleColor": "black", "titlePadding": 1,
            "values": [0, 64],
            "labelAngle": 270, "labelAlign": "center", "labelBaseline": "bottom",
            "labelFont": "Liberation Sans", "labelFontSize": 6, "labelColor": "black", "labelPadding": 5,
            "labelFlush": false, "labelOverlap": false,
            "ticks": false, "domainColor": "black", "grid": false
          }
        },
        "color": {
          "field": "series", "type": "nominal",
          "scale": {"domain": ["black", "red", "blue", "magenta"], "range": ["#000000", "#e01010", "#1010e0", "#c020c0"]},
          "legend": null
        }
      }
    },
    {
      "transform": [{"filter": "isValid(datum.label)"}],
      "mark": {"type": "text", "font": "Liberation Serif", "fontSize": 21, "align": "center", "baseline": "middle", "color": "black", "clip": false},
      "encoding": {
        "text": {"field": "label"},
        "x": {"datum": 6100},
        "y": {"datum": 32}
      }
    },
    {
      "transform": [{"filter": "isValid(datum.header)"}],
      "mark": {"type": "text", "font": "Liberation Serif", "fontSize": 25, "align": "center", "baseline": "alphabetic", "color": "black", "clip": false},
      "encoding": {
        "text": {"field": "header"},
        "x": {"datum": 355},
        "y": {"datum": 55}
      }
    }
  ]
},
"config": {"view": {"stroke": null}}
}
